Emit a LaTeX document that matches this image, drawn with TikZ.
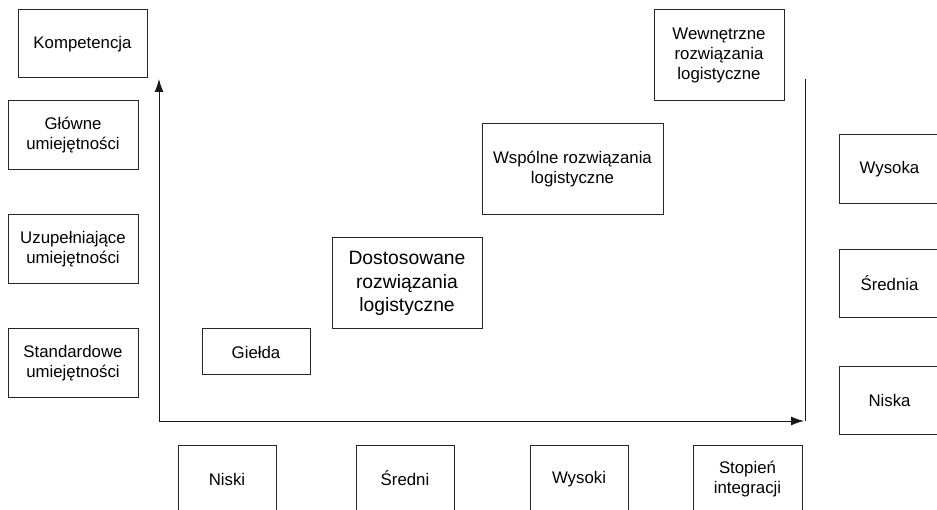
\documentclass[tikz,border=0pt]{standalone}
\usepackage{fontspec}
\setmainfont{Liberation Sans}
\usepackage{tikz}
\usetikzlibrary{positioning}
\usetikzlibrary{arrows.meta}

\tikzset{
    box/.style={draw=black!85, line width=1pt, rectangle, align=center, inner sep=2pt,
        font=\fontsize{16.8}{20}\selectfont},
    bigbox/.style={box, font=\fontsize{19.3}{23.3}\selectfont},
    axis/.style={draw=black!90, line width=1pt}
}

\begin{document}
\begin{tikzpicture}[x=1pt, y=-1pt]
        \useasboundingbox (0,0) rectangle (937,510);
        \clip (0,0) rectangle (937,510);

        % competence levels (left)
        \node[box, minimum width=129pt, minimum height=68pt] (kompetencja) at (82.5,44) {Kompetencja};
        \node[box, minimum width=130pt, minimum height=69pt] (glowne) at (73,135.5) {Główne \\ umiejętności};
        \node[box, minimum width=130pt, minimum height=69pt] (uzupelniajace) at (73,249.5) {Uzupełniające \\ umiejętności};
        \node[box, minimum width=130pt, minimum height=69pt] (standardowe) at (73,363.5) {Standardowe \\ umiejętności};

        % solutions
        \node[box, minimum width=108pt, minimum height=46pt] (gielda) at (256,352) {Giełda};
        \node[bigbox, minimum width=150pt, minimum height=91pt] (dostosowane) at (407,283.5) {Dostosowane \\ rozwiązania \\ logistyczne};
        \node[box, minimum width=181pt, minimum height=91pt] (wspolne) at (572.5,169.5) {Wspólne rozwiązania \\ logistyczne};
        \node[box, minimum width=130pt, minimum height=91pt] (wewnetrzne) at (719,55.5) {Wewnętrzne \\ rozwiązania \\ logistyczne};

        % levels (right)
        \node[box, minimum width=101pt, minimum height=69pt] (wysoka) at (889.5,169.5) {Wysoka};
        \node[box, minimum width=101pt, minimum height=68pt] (srednia) at (889.5,284) {\smash{Ś}rednia};
        \node[box, minimum width=101pt, minimum height=67pt] (niska) at (889.5,400.5) {Niska};

        % integration (bottom)
        \node[box, minimum width=98pt, minimum height=68pt] (niski) at (227,479) {Niski};
        \node[box, minimum width=98pt, minimum height=68pt] (sredni) at (405,479) {\smash{Ś}redni};
        \node[box, minimum width=98pt, minimum height=68pt] (wysoki) at (579,479) {Wysoki};
        \node[box, minimum width=109pt, minimum height=68pt] (stopien) at (747.5,479) {Stopień \\ integracji};

        % axes
        \coordinate (origin) at (159,421);
        \coordinate (y_tip) at (159,79);
        \coordinate (x_tip) at (804,421);
        \coordinate (right_top) at (805,79);
        \coordinate (right_bottom) at (805,421);
        \draw[axis, -{Latex[length=13pt,width=9pt]}] (origin) -- (y_tip);
        \draw[axis, -{Latex[length=13pt,width=9pt]}] (origin) -- (x_tip);
        \draw[axis] (right_top) -- (right_bottom);
    \end{tikzpicture}
\end{document}
